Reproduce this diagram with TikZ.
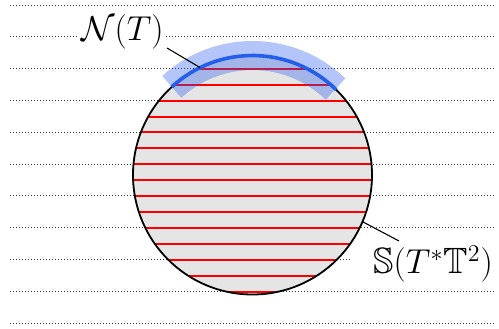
\documentclass[tikz,border=0pt]{standalone}
\usepackage{amssymb}
\definecolor{bandblue}{RGB}{40,90,240}
\definecolor{arcblue}{RGB}{35,95,235}
\begin{document}
\begin{tikzpicture}[x=0.5pt,y=0.5pt,
  guide/.style={dash pattern=on 0.5pt off 1pt, line width=0.5pt, black!80},
  chord/.style={red, line width=1pt},
  ball/.style={circle, fill=black!10, minimum size=119.5pt, inner sep=0pt, outer sep=0pt},
  rim/.style={black, line width=0.9pt},
  band/.style={bandblue, opacity=0.35, line width=14.5pt, line cap=butt},
  nbhd/.style={arcblue, line width=1.8pt},
  leader/.style={black, line width=0.55pt},
  lab/.style={fill=white, inner sep=1pt}]
\useasboundingbox (0,0) rectangle (499,328);
% dotted guide lines
\foreach \k in {0,...,10}
  \draw[guide] (10,{323-31.8*\k}) -- (495,{323-31.8*\k});
% sphere
\node[ball] (S) at (252.5,153) {};
\begin{scope}
  \clip (S.center) circle[radius=59.75pt];
  \foreach \py in {69,85,101,117,132,148,164,180,196,212,228,244,260,276,292}
    \draw[chord] (120,328-\py) -- (390,328-\py);
\end{scope}
\draw[rim] (S.center) circle[radius=59.75pt];
% neighbourhood band and arc
\draw[band] ([shift={(46:59.75pt)}]S.center) arc[start angle=46, end angle=132.5, radius=59.75pt];
\draw[nbhd] ([shift={(45.5:59.75pt)}]S.center) arc[start angle=45.5, end angle=132.5, radius=59.75pt];
% labels
\node[lab, font=\fontsize{17.3}{21}\selectfont] (N) at (122.5,296.5) {$\mathcal{N}(T)$};
\node[lab, inner xsep=10.5pt, anchor=west, font=\fontsize{18.3}{22}\selectfont] (L) at (352,64) {$\mathbb{S}(T^{*}\mathbb{T}^{2})$};
\coordinate (nl) at (167,280);
\coordinate (sl) at (399,87);
\draw[leader] (nl) -- (S.116);
\draw[leader] (sl) -- (S.-23);
\end{tikzpicture}
\end{document}
